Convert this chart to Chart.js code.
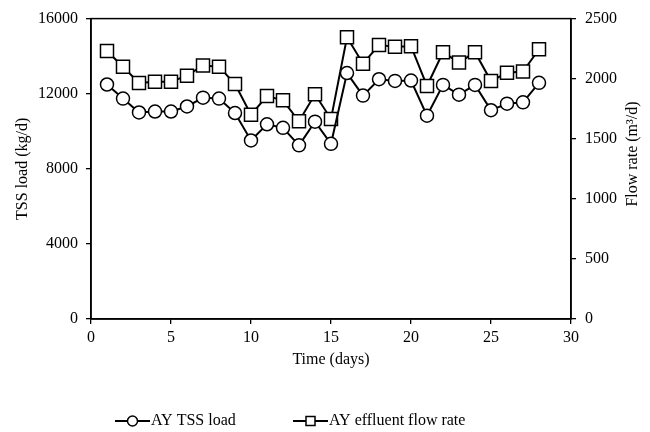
<!DOCTYPE html>
<html>
<head>
<meta charset="utf-8">
<script src="https://cdn.jsdelivr.net/npm/chart.js@4/dist/chart.umd.min.js"></script>
<style>
  html, body { margin: 0; padding: 0; background: #fff; }
  canvas { display: block; }
</style>
</head>
<body>
<canvas id="tssChart" width="650" height="432"></canvas>
<script>
// Daily data
const days = [1, 2, 3, 4, 5, 6, 7, 8, 9, 10, 11, 12, 13, 14, 15, 16, 17, 18, 19, 20, 21, 22, 23, 24, 25, 26, 27, 28];
const tssLoad = [12490, 11740, 11000, 11050, 11050, 11320, 11790, 11740, 10970, 9510, 10370, 10180, 9250, 10510,
                 9330, 13100, 11900, 12770, 12680, 12700, 10830, 12470, 11950, 12470, 11120, 11470, 11540, 12580];
const flowRate = [2230, 2100, 1965, 1975, 1975, 2025, 2110, 2100, 1955, 1700, 1855, 1820, 1645, 1870,
                  1665, 2345, 2125, 2280, 2265, 2270, 1940, 2220, 2135, 2220, 1980, 2050, 2060, 2245];

const seriesLabels = ['AY TSS load', 'AY effluent flow rate'];
const xTitle = 'Time (days)';
const yTitle = 'TSS load (kg/d)';
const y1Title = 'Flow rate (m\u00b3/d)';

const FONT = 'Liberation Serif, Times New Roman, serif';
const BLACK = '#000';

const toPoints = (vals) => vals.map((v, i) => ({ x: days[i], y: v }));
const plain = (v) => String(v);

// frame around the plot + right title (reads bottom-to-top) + legend
const extras = {
  id: 'extras',
  afterDraw(chart) {
    const { ctx, chartArea: a } = chart;
    ctx.save();
    ctx.strokeStyle = BLACK;
    ctx.lineWidth = 1.5;
    ctx.strokeRect(a.left, a.top, a.right - a.left, a.bottom - a.top);

    ctx.fillStyle = BLACK;
    ctx.font = '16px ' + FONT;
    ctx.textAlign = 'center';
    ctx.textBaseline = 'middle';
    ctx.translate(633, 154);
    ctx.rotate(-Math.PI / 2);
    ctx.fillText(y1Title, 0, 0);
    ctx.restore();

    // legend
    const items = [
      { x: 115, style: 'circle', r: 5 },
      { x: 293, style: 'rect', r: 4.5 }
    ];
    const ly = 421;
    chart.data.datasets.forEach((ds, i) => {
      const it = items[i];
      ctx.save();
      ctx.strokeStyle = BLACK;
      ctx.lineWidth = 2;
      ctx.beginPath();
      ctx.moveTo(it.x, ly);
      ctx.lineTo(it.x + 35, ly);
      ctx.stroke();
      const cx = it.x + 17.5;
      ctx.fillStyle = '#fff';
      ctx.lineWidth = 1.5;
      ctx.beginPath();
      if (it.style === 'circle') ctx.arc(cx, ly, it.r, 0, Math.PI * 2);
      else ctx.rect(cx - it.r, ly - it.r, it.r * 2, it.r * 2);
      ctx.fill();
      ctx.stroke();
      ctx.fillStyle = BLACK;
      ctx.font = '16px ' + FONT;
      ctx.textAlign = 'left';
      ctx.textBaseline = 'middle';
      ctx.fillText(ds.label, it.x + 36, ly);
      ctx.restore();
    });
  }
};

const axisGrid = { display: true, drawOnChartArea: false, drawTicks: true, tickLength: 5, color: BLACK, lineWidth: 1.3 };
const axisBorder = { display: true, color: BLACK, width: 1.5 };

new Chart(document.getElementById('tssChart'), {
  type: 'line',
  data: {
    datasets: [
      {
        label: seriesLabels[0],
        data: toPoints(tssLoad),
        yAxisID: 'y',
        borderColor: BLACK,
        borderWidth: 2,
        pointStyle: 'circle',
        pointRadius: 6.5,
        pointBackgroundColor: '#fff',
        pointBorderColor: BLACK,
        pointBorderWidth: 1.5,
        tension: 0
      },
      {
        label: seriesLabels[1],
        data: toPoints(flowRate),
        yAxisID: 'y1',
        borderColor: BLACK,
        borderWidth: 2,
        pointStyle: 'rect',
        pointRadius: 9.2,
        pointBackgroundColor: '#fff',
        pointBorderColor: BLACK,
        pointBorderWidth: 1.5,
        tension: 0
      }
    ]
  },
  options: {
    responsive: false,
    animation: false,
    layout: { padding: { top: 15, left: 0, right: 0, bottom: 0 } },
    plugins: { legend: { display: false }, tooltip: { enabled: false } },
    scales: {
      x: {
        type: 'linear',
        min: 0, max: 30,
        grid: axisGrid,
        border: axisBorder,
        ticks: { stepSize: 5, padding: 4, color: BLACK, font: { family: FONT, size: 16 }, callback: plain },
        title: { display: true, text: xTitle, color: BLACK, font: { family: FONT, size: 16 }, padding: { top: 0, bottom: 63 } },
        afterFit: (s) => { s.height = 113; }
      },
      y: {
        position: 'left',
        min: 0, max: 16000,
        grid: axisGrid,
        border: axisBorder,
        ticks: { stepSize: 4000, padding: 8, color: BLACK, font: { family: FONT, size: 16 }, callback: plain },
        title: { display: true, text: yTitle, color: BLACK, font: { family: FONT, size: 16 }, padding: { top: 13, bottom: 0 } },
        afterFit: (s) => { s.width = 91; }
      },
      y1: {
        position: 'right',
        min: 0, max: 2500,
        grid: axisGrid,
        border: axisBorder,
        ticks: { stepSize: 500, padding: 9, color: BLACK, font: { family: FONT, size: 16 }, callback: plain },
        afterFit: (s) => { s.width = 79; }
      }
    }
  },
  plugins: [extras]
});
</script>
</body>
</html>
